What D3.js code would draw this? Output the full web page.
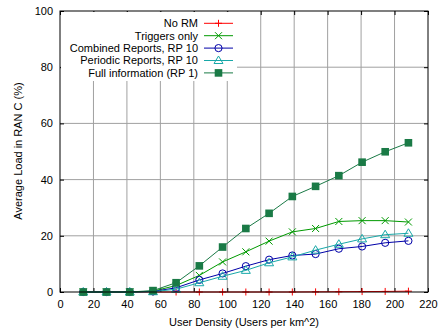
<!DOCTYPE html>
<html>
<head>
<meta charset="utf-8">
<script src="https://cdn.jsdelivr.net/npm/d3@7"></script>
<style>
  body { margin: 0; background: #fff; }
  text { font-family: "Liberation Sans", Arial, sans-serif; }
</style>
</head>
<body>
<svg id="drawing_region"></svg>
<script>
const density = [13.9, 27.8, 41.7, 55.6, 69.4, 83.3, 97.2, 111.1, 125, 138.9, 152.8, 166.7, 180.6, 194.4, 208.3];
const noRM      = [0, 0, 0, 0, 0, 0, 0, 0, 0, 0, 0.05, 0.1, 0.15, 0.2, 0.3];
const triggers  = [0, 0, 0, 0.3, 2.3, 5.9, 10.7, 14.3, 18.1, 21.4, 22.6, 25.1, 25.4, 25.4, 24.9];
const combined  = [0, 0, 0, 0.2, 1.5, 4.3, 6.6, 9.2, 11.5, 13.0, 13.5, 15.4, 16.2, 17.5, 18.2];
const periodic  = [0, 0, 0, 0.1, 1.0, 3.3, 5.6, 7.7, 10.4, 12.5, 14.9, 17.0, 18.9, 20.4, 20.9];
const fullInfo  = [0, 0, 0, 0.5, 3.3, 9.3, 16.0, 22.6, 28.0, 34.0, 37.6, 41.4, 46.2, 49.9, 53.1];
const xTicks = [0, 20, 40, 60, 80, 100, 120, 140, 160, 180, 200, 220];
const yTicks = [0, 20, 40, 60, 80, 100];

const series = [
    { name: "No RM", values: noRM, color: "#ff0000", marker: "plus" },
    { name: "Triggers only", values: triggers, color: "#009a00", marker: "cross" },
    { name: "Combined Reports, RP 10", values: combined, color: "#0000a8", marker: "circle" },
    { name: "Periodic Reports, RP 10", values: periodic, color: "#18a8a8", marker: "triangle" },
    { name: "Full information (RP 1)", values: fullInfo, color: "#1a7a46", marker: "square" }
];

const width = 440, height = 331;
const margin = { top: 11, right: 12, bottom: 39, left: 60 };
const innerW = width - margin.left - margin.right;
const innerH = height - margin.top - margin.bottom;
const fs = 11;

const svg = d3.select('#drawing_region')
    .attr('width', width)
    .attr('height', height);

const chart = svg.append('g')
    .attr('transform', `translate(${margin.left}, ${margin.top})`);

const xscale = d3.scaleLinear().domain([0, 220]).range([0, innerW]);
const yscale = d3.scaleLinear().domain([0, 100]).range([innerH, 0]);

// grid
chart.append('g').selectAll('line')
    .data(xTicks.slice(1, -1))
    .enter().append('line')
    .attr('x1', d => xscale(d)).attr('x2', d => xscale(d))
    .attr('y1', 0).attr('y2', innerH)
    .attr('stroke', '#a0a0a0').attr('stroke-width', 1);
chart.append('g').selectAll('line')
    .data(yTicks.slice(1, -1))
    .enter().append('line')
    .attr('y1', d => yscale(d)).attr('y2', d => yscale(d))
    .attr('x1', 0).attr('x2', innerW)
    .attr('stroke', '#a0a0a0').attr('stroke-width', 1);

// axes with inward ticks on all sides
const tickLen = 4;
const xaxis = d3.axisBottom(xscale).tickValues(xTicks).tickSize(-tickLen).tickPadding(8).tickSizeOuter(0);
const yaxis = d3.axisLeft(yscale).tickValues(yTicks).tickSize(-tickLen).tickPadding(7).tickSizeOuter(0);
const xaxisTop = d3.axisTop(xscale).tickValues(xTicks).tickSize(-tickLen).tickFormat('').tickSizeOuter(0);
const yaxisRight = d3.axisRight(yscale).tickValues(yTicks).tickSize(-tickLen).tickFormat('').tickSizeOuter(0);

[
    chart.append('g').attr('transform', `translate(0, ${innerH})`).call(xaxis),
    chart.append('g').call(yaxis),
    chart.append('g').call(xaxisTop),
    chart.append('g').attr('transform', `translate(${innerW}, 0)`).call(yaxisRight)
].forEach(g => {
    g.select('.domain').remove();
    g.selectAll('line').attr('stroke', '#000');
    g.selectAll('text').attr('font-size', fs).attr('fill', '#000')
        .style('font-family', '"Liberation Sans", Arial, sans-serif');
});

// legend background
const legX = 198, legY0 = 23.3, legStep = 12.4;
chart.append('rect')
    .attr('x', 1).attr('y', 1)
    .attr('width', 236 - margin.left).attr('height', 80 - margin.top)
    .attr('fill', '#fff');

function drawMarker(g, type, x, y, color) {
    if (type === 'plus') {
        g.append('path').attr('d', `M${x - 3.5},${y}H${x + 3.5}M${x},${y - 3.5}V${y + 3.5}`)
            .attr('stroke', color).attr('fill', 'none');
    } else if (type === 'cross') {
        g.append('path').attr('d', `M${x - 3.5},${y - 3.5}L${x + 3.5},${y + 3.5}M${x - 3.5},${y + 3.5}L${x + 3.5},${y - 3.5}`)
            .attr('stroke', color).attr('fill', 'none');
    } else if (type === 'circle') {
        g.append('circle').attr('cx', x).attr('cy', y).attr('r', 3.6)
            .attr('stroke', color).attr('fill', 'none');
    } else if (type === 'triangle') {
        g.append('path').attr('d', `M${x},${y - 4.5}L${x + 4.5},${y + 3}L${x - 4.5},${y + 3}Z`)
            .attr('stroke', color).attr('fill', 'none');
    } else if (type === 'square') {
        g.append('rect').attr('x', x - 3.8).attr('y', y - 3.8).attr('width', 7.6).attr('height', 7.6)
            .attr('fill', color);
    }
}

const line = d3.line()
    .x((d, i) => xscale(density[i]))
    .y(d => yscale(d));

series.forEach(s => {
    const g = chart.append('g');
    g.append('path')
        .attr('d', line(s.values))
        .attr('fill', 'none')
        .attr('stroke', s.color)
        .attr('stroke-width', 1);
    s.values.forEach((v, i) => drawMarker(g, s.marker, xscale(density[i]), yscale(v), s.color));
});

// legend
series.forEach((s, i) => {
    const y = legY0 + i * legStep - margin.top;
    const x = legX - margin.left;
    chart.append('text')
        .attr('x', x).attr('y', y).attr('dy', '0.35em')
        .attr('text-anchor', 'end').attr('font-size', fs)
        .text(s.name);
    chart.append('line')
        .attr('x1', x + 6).attr('x2', x + 35)
        .attr('y1', y).attr('y2', y)
        .attr('stroke', s.color);
    drawMarker(chart.append('g'), s.marker, x + 20.5, y, s.color);
});

// border
chart.append('rect')
    .attr('width', innerW).attr('height', innerH)
    .attr('fill', 'none').attr('stroke', '#000').attr('stroke-width', 1);

// axis titles
svg.append('text')
    .attr('x', 244)
    .attr('y', 326)
    .attr('text-anchor', 'middle').attr('font-size', fs)
    .text('User Density (Users per km^2)');

svg.append('text')
    .attr('transform', `translate(22, 151) rotate(-90)`)
    .attr('text-anchor', 'middle').attr('font-size', fs)
    .text('Average Load in RAN C (%)');
</script>
</body>
</html>
